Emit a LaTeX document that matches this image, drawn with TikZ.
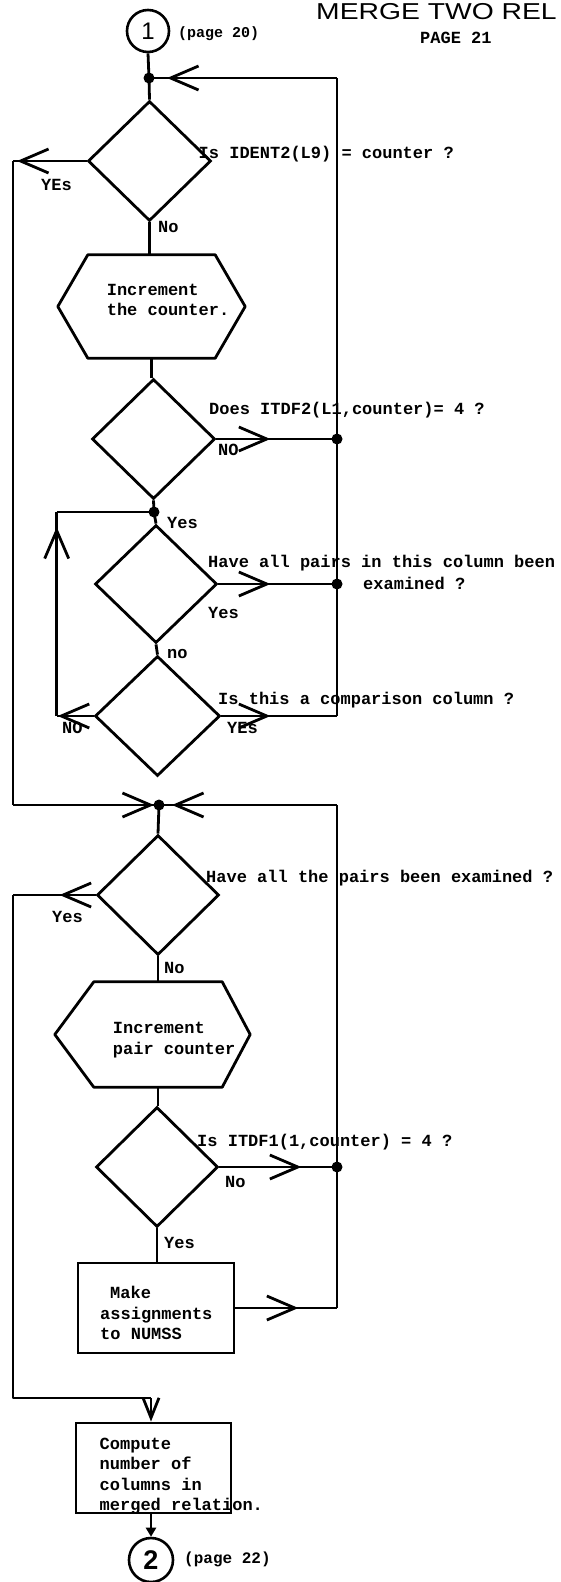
\documentclass[tikz,border=0pt]{standalone}
\usepackage{fontspec}
\usepackage{graphicx}
\usetikzlibrary{shapes.geometric,arrows.meta,decorations.markings,calc}
\newfontfamily\twfont{Liberation Mono}
\newfontfamily\sansfnt{Liberation Sans}
\begin{document}
\begin{tikzpicture}[x=1pt,y=-1pt]
\tikzset{
  ln/.style={line width=2.8pt, line join=round},
  dia/.style={draw, shape=diamond, line width=2.8pt, inner sep=0pt},
  procbox/.style={draw, rectangle, line width=2.8pt, inner sep=0pt},
  hexbase/.style={rectangle, inner sep=0pt},
  dotnode/.style={circle, fill=black, inner sep=0pt, minimum size=11pt},
  connode/.style={circle, draw, line width=2.6pt, inner sep=0pt},
  lbl/.style={font=\twfont\bfseries\fontsize{17}{20.5}\selectfont, anchor=west, inner sep=0pt, align=left},
  barbtip/.tip={Straight Barb[length=28pt,width=24pt,line width=2.8pt]},
  arrowat/.style={postaction={decorate,decoration={markings,mark=at position #1 with {\arrow{barbtip}}}}},
}
\useasboundingbox (0,0) rectangle (561,1582);

% title
\node[anchor=west, inner sep=0pt] (title) at (316,12) {\scalebox{1.23}[1]{\sansfnt\fontsize{23}{23}\selectfont MERGE TWO REL}};
\node[lbl] (pg21) at (420,38) {PAGE 21};

% connectors
\node[connode, minimum size=42pt] (c1) at (148,31) {\sansfnt\fontsize{24}{24}\selectfont 1};
\node[lbl, font=\twfont\bfseries\fontsize{15}{18}\selectfont] (p20) at (178,34) {(page 20)};
\node[connode, minimum size=44pt] (c2) at (151,1560) {\sansfnt\bfseries\fontsize{27}{27}\selectfont 2};
\node[lbl, font=\twfont\bfseries\fontsize{16}{19}\selectfont] (p22) at (184,1559) {(page 22)};

% junction dots
\node[dotnode] (j1) at (149,78) {};
\node[dotnode] (j2) at (337,439) {};
\node[dotnode] (j3) at (154,512) {};
\node[dotnode] (j4) at (337,584) {};
\node[dotnode] (j5) at (159,805) {};
\node[dotnode] (j6) at (337,1167) {};

% corners
\coordinate (k1) at (337,78);
\coordinate (k4) at (337,716);
\coordinate (kL1) at (13,161);
\coordinate (kL2) at (13,805);
\coordinate (kL5) at (56.7,716);
\coordinate (kL6) at (56.7,512);
\coordinate (kR2) at (337,805);
\coordinate (kR3) at (337,1308);
\coordinate (kL3) at (13,895);
\coordinate (kL4) at (13,1398);
\coordinate (kM) at (151,1398);

% decisions
\node[dia, minimum width=123pt, minimum height=120pt] (d1) at (149.5,161) {};
\node[dia, minimum width=123pt, minimum height=120pt] (d2) at (153.5,439) {};
\node[dia, minimum width=122pt, minimum height=118pt] (d3) at (156,584) {};
\node[dia, minimum width=125pt, minimum height=120pt] (d4) at (157.5,716) {};
\node[dia, minimum width=122pt, minimum height=120pt] (d5) at (158,895) {};
\node[dia, minimum width=122pt, minimum height=120pt] (d6) at (157,1167) {};

% hexagons
\node[hexbase, minimum width=127pt, minimum height=103pt] (h1) at (151.5,306.5) {};
\draw[ln] (h1.north west) -- (h1.north east) -- ([xshift=30pt]h1.east) -- (h1.south east) -- (h1.south west) -- ([xshift=-30pt]h1.west) -- cycle;
\node[lbl] (h1t) at (106.6,300) {Increment\\the counter.};
\node[hexbase, minimum width=128pt, minimum height=105pt] (h2) at (158,1034.5) {};
\draw[ln] (h2.north west) -- (h2.north east) -- ([xshift=28pt]h2.east) -- (h2.south east) -- (h2.south west) -- ([xshift=-39pt]h2.west) -- cycle;
\node[lbl] (h2t) at (112.7,1040) {Increment\\pair counter};

% boxes
\node[procbox, minimum width=156pt, minimum height=90pt] (b1) at (156,1308) {};
\node[lbl] (b1t) at (100,1313) {\hspace*{10pt}Make\\assignments\\to NUMSS};
\node[procbox, minimum width=155pt, minimum height=90pt] (b2) at (153.5,1468) {};
\node[lbl] (b2t) at (99.5,1476) {Compute\\number of\\columns in\\merged relation.};

% labels
\node[lbl] (t1) at (198.5,154) {Is IDENT2(L9) = counter ?};
\node[lbl] (y1) at (41,185) {YEs};
\node[lbl] (n1) at (158,227) {No};
\node[lbl] (t2) at (209,410) {Does ITDF2(L1,counter)= 4 ?};
\node[lbl] (n2) at (218,450) {NO};
\node[lbl] (y2) at (167,523) {Yes};
\node[lbl] (t3) at (208,563) {Have all pairs in this column been};
\node[lbl] (t3b) at (363,583) {examined ?};
\node[lbl] (y3) at (208,613) {Yes};
\node[lbl] (n3) at (167,654) {no};
\node[lbl] (t4) at (218,700) {Is this a comparison column ?};
\node[lbl] (y4) at (227,728) {YEs};
\node[lbl] (n4) at (62,728) {NO};
\node[lbl] (t5) at (206,878) {Have all the pairs been examined ?};
\node[lbl] (y5) at (52,917) {Yes};
\node[lbl] (n5) at (164,968) {No};
\node[lbl] (t6) at (197,1142) {Is ITDF1(1,counter) = 4 ?};
\node[lbl] (n6) at (225,1182) {No};
\node[lbl] (y6) at (164,1243) {Yes};

% connectors
\draw[ln] (c1.south) -- (j1.center);
\draw[ln] (j1.center) -- (d1.north);
\draw[ln] (k4) -- (k1);
\draw[ln, arrowat=-18pt] (k1) -- (j1.center);
\draw[ln, arrowat=-4pt] (d1.west) -- (kL1);
\draw[ln] (kL1) -- (kL2);
\draw[ln, arrowat=-5pt] (kL2) -- (j5.center);
\draw[ln] (d1.south) -- (d1.south |- h1.north);
\draw[ln] (h1.south) -- (h1.south |- d2.north);
\draw[ln, arrowat=54pt] (d2.east) -- (j2.center);
\draw[ln] (d2.south) -- (j3.center);
\draw[ln] (j3.center) -- (d3.north);
\draw[ln, arrowat=52pt] (d3.east) -- (j4.center);
\draw[ln] (d3.south) -- (d4.north);
\draw[ln, arrowat=49pt] (d4.east) -- (k4);
\draw[ln, arrowat=-1pt] (d4.west) -- (kL5);
\draw[ln, arrowat=-15pt] (kL5) -- (kL6);
\draw[ln] (kL6) -- (j3.center);
\draw[ln] (kR3) -- (kR2);
\draw[ln, arrowat=-13pt] (kR2) -- (j5.center);
\draw[ln] (j5.center) -- (d5.north);
\draw[ln, arrowat=36pt] (d5.west) -- (kL3);
\draw[ln] (kL3) -- (kL4) -- (kM);
\draw[ln, -{Straight Barb[length=20pt,width=16pt]}] (kM) -- (kM |- b2.north);
\draw[ln] (d5.south) -- (d5.south |- h2.north);
\draw[ln] (h2.south) -- (h2.south |- d6.north);
\draw[ln, arrowat=82pt] (d6.east) -- (j6.center);
\draw[ln] (d6.south) -- (d6.south |- b1.north);
\draw[ln, arrowat=63pt] (b1.east) -- (kR3);
\draw[ln, -{Triangle[length=9pt,width=10pt]}] (c2 |- b2.south) -- (c2.north);
\end{tikzpicture}
\end{document}
